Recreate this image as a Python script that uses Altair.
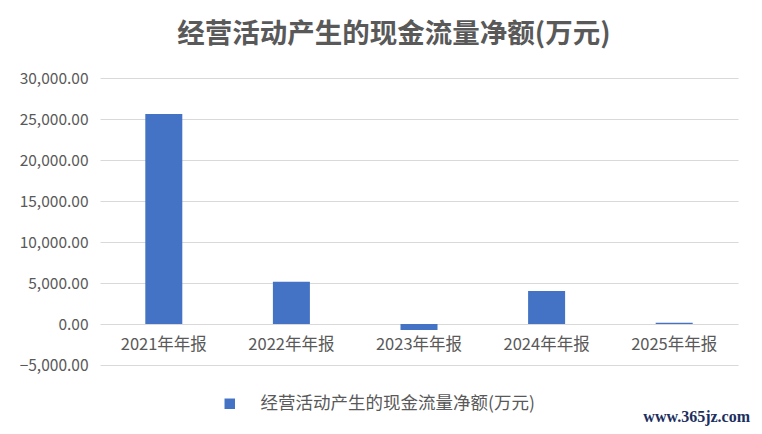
import altair as alt
import pandas as pd

categories = ["2021年年报", "2022年年报", "2023年年报", "2024年年报", "2025年年报"]
values = [25610, 5160, -720, 4020, 160]
series_name = "经营活动产生的现金流量净额(万元)"
y_ticks = [-5000, 0, 5000, 10000, 15000, 20000, 25000, 30000]

df = pd.DataFrame({"cat": categories, "val": values, "series": [series_name] * len(categories)})

W, H = 638, 287
FONT = "Noto Sans CJK SC"
GREY = "#595959"

x = alt.X("cat:N", sort=categories, title=None,
          scale=alt.Scale(paddingInner=0.71, paddingOuter=0.355),
          axis=alt.Axis(domain=False, ticks=False, labelAngle=0, labelFontSize=16.5,
                        labelColor=GREY, labelFont=FONT, labelPadding=12,
                        offset=-41, grid=False))
y = alt.Y("val:Q", title=None,
          scale=alt.Scale(domain=[-5000, 30000], nice=False),
          axis=alt.Axis(values=y_ticks, format=",.2f", domain=False, ticks=False,
                        labelFontSize=15.5, labelColor=GREY, labelFont=FONT,
                        labelPadding=12, gridColor="#D9D9D9", gridWidth=1))

bars = alt.Chart(df).mark_bar(color="#4472C4").encode(
    x=x, y=y,
    color=alt.Color("series:N", scale=alt.Scale(range=["#4472C4"]),
                    legend=alt.Legend(title=None, orient="none", legendX=121, legendY=317,
                                      symbolType="square", symbolSize=110,
                                      symbolStrokeWidth=0, labelFontSize=17.5,
                                      labelColor=GREY, labelFont=FONT, labelOffset=22,
                                      labelLimit=0)),
)

wm = alt.Chart(pd.DataFrame({"t": ["www.365jz.com"]})).mark_text(
    font="Liberation Serif", fontSize=16, fontWeight="bold", color="#1c2f5e",
    align="right", baseline="middle"
).encode(text="t:N", x=alt.value(W + 12), y=alt.value(H + 52))

chart = alt.layer(bars, wm).properties(
    width=W, height=H,
    autosize=alt.AutoSizeParams(type="none"),
    padding={"left": 92, "top": 70, "right": 16, "bottom": 61},
    title=alt.TitleParams(series_name, fontSize=27.5, fontWeight="bold", color=GREY,
                          font=FONT, anchor="middle", dx=-25, offset=23),
).configure(background="white").configure_view(stroke=None)

chart.save("out.html", embed_options={"renderer": "svg", "actions": False})
